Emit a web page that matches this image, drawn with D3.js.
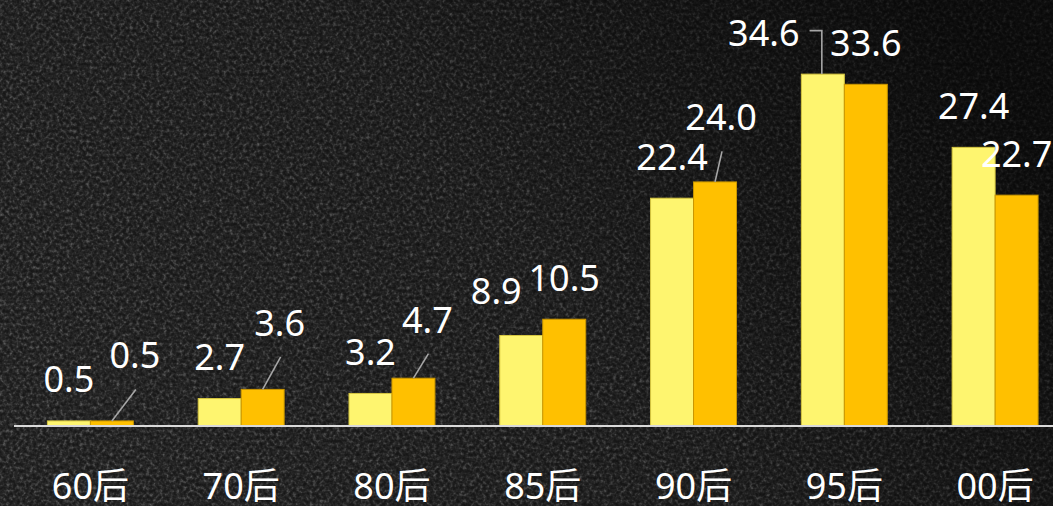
<!DOCTYPE html>
<html>
<head>
<meta charset="utf-8">
<script src="https://cdn.jsdelivr.net/npm/d3@7/dist/d3.min.js"></script>
<style>
  html, body { margin: 0; padding: 0; background: #1a1a1a; overflow: hidden; }
  svg { display: block; }
</style>
</head>
<body>
<div id="chart"></div>
<script>
// Generations on the x axis
const categories = ["60后", "70后", "80后", "85后", "90后", "95后", "00后"];
// Two series of percentages per generation
const seriesA = [0.5, 2.7, 3.2, 8.9, 22.4, 34.6, 27.4];
const seriesB = [0.5, 3.6, 4.7, 10.5, 24.0, 33.6, 22.7];

// Label nudges (dx, dy in px) away from the default spot above each bar
const nudgeA = [[0, 0], [0, 0], [0, 0], [-25, -3], [0, 0], [-59, 0], [0, 0]];
const nudgeB = [[23, -24], [17, -25], [14, -17], [0, 0], [6, -23], [0, 0], [0, 0]];

const W = 1053, H = 506;
const baseY = 426;

const svg = d3.select("#chart").append("svg")
  .attr("width", W).attr("height", H);

// ---- textured dark stone background ----
const defs = svg.append("defs");
const f = defs.append("filter").attr("id", "grain")
  .attr("x", 0).attr("y", 0).attr("width", W).attr("height", H)
  .attr("filterUnits", "userSpaceOnUse")
  .attr("color-interpolation-filters", "sRGB");
f.append("feTurbulence").attr("type", "fractalNoise")
  .attr("baseFrequency", 0.3).attr("numOctaves", 2).attr("seed", 7).attr("result", "n");
f.append("feColorMatrix").attr("type", "matrix")
  .attr("values", "1 0 0 0 0  1 0 0 0 0  1 0 0 0 0  0 0 0 0 1").attr("result", "g");
const ct = f.append("feComponentTransfer").attr("result", "t");
const table = "0.07 0.08 0.095 0.11 0.135 0.17 0.235 0.31 0.38 0.44";
ct.append("feFuncR").attr("type", "table").attr("tableValues", table);
ct.append("feFuncG").attr("type", "table").attr("tableValues", table);
ct.append("feFuncB").attr("type", "table").attr("tableValues", table);
f.append("feGaussianBlur").attr("stdDeviation", 0.35);

const shade = defs.append("linearGradient").attr("id", "shade")
  .attr("x1", 0).attr("y1", 0.7).attr("x2", 1).attr("y2", 0.3);
shade.append("stop").attr("offset", "0%").attr("stop-color", "#000").attr("stop-opacity", 0.0);
shade.append("stop").attr("offset", "50%").attr("stop-color", "#000").attr("stop-opacity", 0.15);
shade.append("stop").attr("offset", "100%").attr("stop-color", "#000").attr("stop-opacity", 0.65);

svg.append("rect").attr("width", W).attr("height", H).attr("fill", "#1c1c1c");
svg.append("rect").attr("width", W).attr("height", H).attr("filter", "url(#grain)");
svg.append("rect").attr("width", W).attr("height", H).attr("fill", "url(#shade)");

// ---- scales ----
const x = d3.scaleBand().domain(categories).range([15, 1070.5]).padding(0);
const groupW = x.bandwidth() * 0.57;
const inner = d3.scaleBand().domain(["A", "B"]).range([-groupW / 2, groupW / 2]).padding(0);
const y = d3.scaleLinear().domain([0, 35]).range([baseY, baseY - 35 * 10.17]);

const series = [
  { key: "A", values: seriesA, nudge: nudgeA, fill: "#FEF56F", stroke: "#D6C640" },
  { key: "B", values: seriesB, nudge: nudgeB, fill: "#FFC000", stroke: "#C99600" }
];

const fontFamily = "'Noto Sans', 'Noto Sans CJK SC', sans-serif";

// ---- bars ----
series.forEach(s => {
  svg.append("g").selectAll("rect")
    .data(s.values.map((v, i) => ({ v, c: categories[i] })))
    .join("rect")
    .attr("x", d => x(d.c) + x.bandwidth() / 2 + inner(s.key))
    .attr("width", inner.bandwidth())
    .attr("y", d => y(d.v))
    .attr("height", d => baseY - y(d.v))
    .attr("fill", s.fill)
    .attr("stroke", s.stroke)
    .attr("stroke-width", 1);
});

// ---- axis line and category labels ----
const xAxis = d3.axisBottom(x).tickSize(0);
const ax = svg.append("g").attr("transform", `translate(0,${baseY})`).call(xAxis);
ax.select(".domain").attr("stroke", "#D9D9D9").attr("stroke-width", 2.2)
  .attr("d", `M14,0H${W}`);
ax.selectAll(".tick text")
  .attr("fill", "#fff")
  .attr("font-family", fontFamily)
  .attr("font-size", 36)
  .attr("dy", 0)
  .attr("y", 73);

// ---- value labels with leader lines ----
const labels = svg.append("g");
series.forEach(s => {
  s.values.forEach((v, i) => {
    const cx = x(categories[i]) + x.bandwidth() / 2 + inner(s.key) + inner.bandwidth() / 2;
    const top = y(v);
    const [dx, dy] = s.nudge[i];
    const lx = cx + dx, ly = top - 28.5 + dy;
    const t = labels.append("text")
      .attr("x", lx).attr("y", ly)
      .attr("text-anchor", "middle")
      .attr("fill", "#fff")
      .attr("font-family", fontFamily)
      .attr("font-size", 36)
      .text(v.toFixed(1));
    if (dy < -10) {
      labels.append("line")
        .attr("x1", cx).attr("y1", top)
        .attr("x2", lx + 1).attr("y2", ly + 21)
        .attr("stroke", "#A6A6A6").attr("stroke-width", 1.6);
    } else if (Math.abs(dx) > 40) {
      const w = t.node().getComputedTextLength();
      const ex = lx + w / 2 + 10, ey = ly - 15;
      labels.append("path")
        .attr("d", `M${ex},${ey}H${cx - 1}V${top}`)
        .attr("fill", "none")
        .attr("stroke", "#A6A6A6").attr("stroke-width", 1.6);
    }
  });
});
</script>
</body>
</html>
